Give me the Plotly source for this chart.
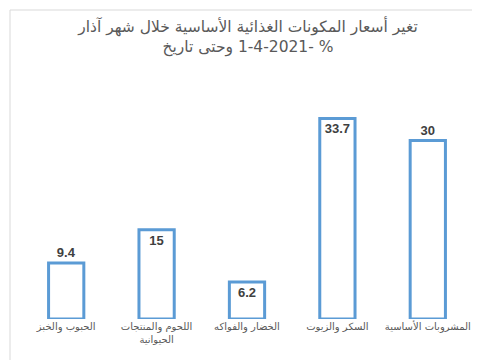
import plotly.graph_objects as go

categories = ["الحبوب والخبز", "اللحوم والمنتجات<br>الحيوانية", "الخضار والفواكه", "السكر والزيوت", "المشروبات الأساسية"]
values = [9.4, 15, 6.2, 33.7, 30]
labels = ["9.4", "15", "6.2", "33.7", "30"]
text_positions = ["outside", "inside", "inside", "inside", "outside"]

title_line1 = "تغير أسعار المكونات الغذائية الأساسية خلال شهر آذار"
title_line2 = "\u2066وحتى تاريخ\u200E 1-4-2021- %\u2069"

fig = go.Figure()
fig.add_trace(go.Bar(
    x=categories,
    y=values,
    text=labels,
    textposition=text_positions,
    insidetextanchor="end",
    constraintext="none",
    cliponaxis=False,
    textfont=dict(family="Liberation Sans, Arial, sans-serif", size=13, color="#404040", weight="bold"),
    marker=dict(color="white", line=dict(color="#5B9BD5", width=3)),
    width=0.39,
    hoverinfo="skip",
))

W, H = 480, 360
ml, mr, mt, mb = 13, 15, 73, 49
pw, ph = W - ml - mr, H - mt - mb

fig.add_shape(type="rect", xref="paper", yref="paper",
              x0=(2 - ml) / pw, x1=(476 - ml) / pw,
              y0=-(354 - (H - mb)) / ph, y1=((H - mb) - 2) / ph,
              line=dict(color="#d9d9d9", width=1), fillcolor="rgba(0,0,0,0)", layer="below")

fig.update_layout(
    width=W, height=H,
    margin=dict(l=ml, r=mr, t=mt, b=mb),
    paper_bgcolor="white", plot_bgcolor="white",
    showlegend=False,
    title=dict(text=title_line1 + "<br>" + title_line2, x=0.5, xanchor="center",
               y=1 - 24 / H, yanchor="top",
               font=dict(family="DejaVu Sans, Arial, sans-serif", size=15.5, color="#595959")),
    xaxis=dict(showgrid=False, showline=False, ticks="", zeroline=False,
               tickfont=dict(family="DejaVu Sans, Arial, sans-serif", size=10, color="#595959")),
    yaxis=dict(range=[0, 40], visible=False, showgrid=False, zeroline=False),
)

fig.write_html("out.html")
